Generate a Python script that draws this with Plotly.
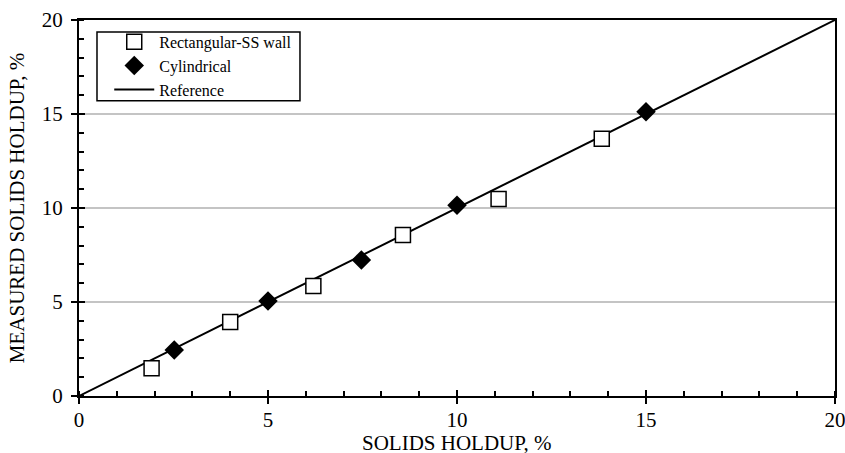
import plotly.graph_objects as go

rect_x = [1.92, 4.0, 6.2, 8.57, 11.1, 13.83]
rect_y = [1.48, 3.93, 5.85, 8.57, 10.48, 13.68]
cyl_x = [2.52, 5.0, 7.47, 10.0, 15.0]
cyl_y = [2.45, 5.05, 7.24, 10.15, 15.12]
ref_x = [0, 20]
ref_y = [0, 20]

FONT = "Liberation Serif"

fig = go.Figure()
fig.add_trace(go.Scatter(x=ref_x, y=ref_y, mode="lines", name="Reference", legendrank=3,
                         line=dict(color="black", width=2)))
fig.add_trace(go.Scatter(x=rect_x, y=rect_y, mode="markers", name="Rectangular-SS wall", legendrank=1,
                         marker=dict(symbol="square", size=15, color="white",
                                     line=dict(color="black", width=1.5))))
fig.add_trace(go.Scatter(x=cyl_x, y=cyl_y, mode="markers", name="Cylindrical", legendrank=2,
                         marker=dict(symbol="diamond", size=15, color="black",
                                     line=dict(color="black", width=0))))
fig.add_trace(go.Scatter(x=[None], y=[None], xaxis="x2", yaxis="y2", showlegend=False,
                         hoverinfo="skip"))

axis_common = dict(range=[0, 20], dtick=5, showline=True, linecolor="black", linewidth=2,
                   mirror=True, ticks="outside", ticklen=6, tickwidth=2, tickcolor="black",
                   zeroline=False, automargin=False, ticklabeloverflow="allow",
                   tickfont=dict(family=FONT, size=21, color="black"),
                   minor=dict(dtick=1, ticks="inside", ticklen=5, tickwidth=1.5, tickcolor="black",
                              showgrid=False))

fig.update_layout(
    width=845, height=453,
    margin=dict(l=79, r=10, t=20, b=57),
    plot_bgcolor="white", paper_bgcolor="white",
    font=dict(family=FONT, size=16, color="black"),
    showlegend=True,
    legend=dict(x=0.04, y=0.987, xanchor="left", yanchor="top",
                borderwidth=0, bgcolor="rgba(0,0,0,0)",
                font=dict(family=FONT, size=16), traceorder="normal",
                tracegroupgap=0, itemwidth=40),
    xaxis=dict(**axis_common, showgrid=False, ticklabelstandoff=-2),
    yaxis=dict(**axis_common, showgrid=True, gridcolor="#c4c4c4", gridwidth=1.5, ticklabelstandoff=4,
               title=dict(text="MEASURED SOLIDS HOLDUP, %", font=dict(family=FONT, size=21), standoff=11)),
    xaxis2=dict(range=[0, 20], overlaying="x", anchor="y", side="bottom", dtick=5,
                ticks="inside", ticklen=6, tickwidth=2, tickcolor="black", automargin=False,
                showticklabels=False, showgrid=False, zeroline=False, showline=False),
    yaxis2=dict(range=[0, 20], overlaying="y", anchor="x", side="left", dtick=5,
                ticks="inside", ticklen=6, tickwidth=2, tickcolor="black", automargin=False,
                showticklabels=False, showgrid=False, zeroline=False, showline=False),
)
fig.add_annotation(text="SOLIDS HOLDUP, %", xref="paper", yref="paper", x=0.5, y=-0.124,
                   xanchor="center", yanchor="middle", showarrow=False,
                   font=dict(family=FONT, size=21, color="black"))
fig.add_shape(type="rect", xref="paper", yref="paper", x0=0.0238, x1=0.2923, y0=0.785, y1=0.968,
              line=dict(color="black", width=1.5), layer="above")

fig.write_html("out.html", config={"displayModeBar": False},
               post_script="document.body.style.margin='0px';")
